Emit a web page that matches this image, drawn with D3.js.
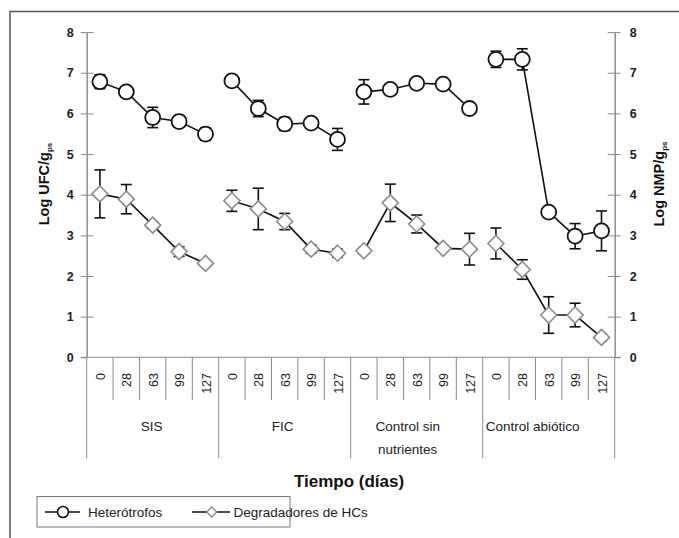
<!DOCTYPE html>
<html><head><meta charset="utf-8">
<script src="https://cdn.jsdelivr.net/npm/d3@7"></script>
<style>body{margin:0;background:#fff}svg{display:block;font-family:"Liberation Sans",Arial,sans-serif}</style>
</head><body>
<svg id="c" width="679" height="538"></svg>
<script>
const groups = ["SIS", "FIC", "Control sin\nnutrientes", "Control abiótico"];
const days = ["0", "28", "63", "99", "127"];
const hetero = [6.78, 6.53, 5.9, 5.8, 5.49,  6.8, 6.12, 5.74, 5.76, 5.36,  6.53, 6.59, 6.74, 6.72, 6.12,  7.33, 7.33, 3.57, 2.98, 3.11];
const heteroErr = [0.17, 0.05, 0.25, 0.05, 0.15,  0.12, 0.2, 0.16, 0.05, 0.27,  0.3, 0.06, 0.06, 0.06, 0.08,  0.2, 0.26, 0.1, 0.31, 0.49];
const degr = [4.02, 3.89, 3.25, 2.6, 2.31,  3.85, 3.65, 3.34, 2.66, 2.56,  2.62, 3.8, 3.28, 2.68, 2.66,  2.8, 2.16, 1.04, 1.04, 0.49];
const degrErr = [0.59, 0.36, 0.08, 0.12, 0.05,  0.26, 0.51, 0.2, 0.1, 0.1,  0.08, 0.46, 0.22, 0.06, 0.39,  0.38, 0.24, 0.45, 0.29, 0.08];
const yTicks = [0, 1, 2, 3, 4, 5, 6, 7, 8];
const seriesNames = ["Heterótrofos", "Degradadores de HCs"];

const svg = d3.select("#c");
const L = 86.7, R = 614.7, T = 32.1, B = 357.3;
const keys = [];
groups.forEach((g, gi) => days.forEach(d => keys.push(gi + "-" + d)));
const x = d3.scaleBand().domain(keys).range([L, R]).padding(0);
const y = d3.scaleLinear().domain([0, 8]).range([B, T]);
const axisCol = "#8a8a8a";

// frame
svg.append("path").attr("d", `M10,538 V11.5 H679`).attr("fill", "none").attr("stroke", "#555").attr("stroke-width", 1.5);

// left axis
const gl = svg.append("g").attr("transform", `translate(${L},0)`);
gl.call(d3.axisLeft(y).tickValues(yTicks).tickSize(6).tickSizeOuter(0).tickPadding(7).tickFormat(d3.format("d")));
gl.append("g").call(d3.axisRight(y).tickValues(yTicks.slice(1)).tickSize(7).tickSizeOuter(0).tickFormat(""));
const gr = svg.append("g").attr("transform", `translate(${R},0)`);
gr.call(d3.axisRight(y).tickValues(yTicks).tickSize(6).tickSizeOuter(0).tickPadding(9).tickFormat(d3.format("d")));
gr.append("g").call(d3.axisLeft(y).tickValues(yTicks.slice(1)).tickSize(7).tickSizeOuter(0).tickFormat(""));
[gl, gr].forEach(g => {
  g.selectAll("path,line").attr("stroke", axisCol);
  g.selectAll("text").attr("font-size", 12.5).attr("font-weight", "bold").attr("fill", "#222").attr("font-family", "Liberation Sans, Arial, sans-serif");
});

// bottom axis line
svg.append("line").attr("x1", L - 6).attr("x2", R + 6).attr("y1", B).attr("y2", B).attr("stroke", axisCol);

// separators
keys.forEach((k, i) => {
  const xs = x(k);
  const isGroup = i % 5 === 0;
  svg.append("line").attr("x1", xs).attr("x2", xs).attr("y1", B).attr("y2", isGroup ? 458 : 400).attr("stroke", axisCol);
});
svg.append("line").attr("x1", R).attr("x2", R).attr("y1", B).attr("y2", 458).attr("stroke", axisCol);

// day labels
keys.forEach((k, i) => {
  const cx = x(k) + x.bandwidth() / 2;
  svg.append("text").attr("transform", `translate(${cx + 5},373) rotate(-90)`)
    .attr("text-anchor", "end").attr("font-size", 12.5).attr("fill", "#222").text(days[i % 5]);
});
// group labels (positions follow the reference layout)
const groupAlign = ["middle", "middle", "middle", "start"];
const groupShift = [-1, -2, -9, 0];
groups.forEach((g, gi) => {
  const x0 = x(keys[gi * 5]), x1 = x(keys[gi * 5 + 4]) + x.bandwidth();
  const px = groupAlign[gi] === "start" ? x0 + 3 : (x0 + x1) / 2 + groupShift[gi];
  const lines = g.split("\n");
  const t = svg.append("text").attr("text-anchor", groupAlign[gi]).attr("font-size", 13.5).attr("fill", "#222");
  lines.forEach((ln, li) => t.append("tspan").attr("x", px).attr("y", 431 + li * 23).text(ln));
});

// axis titles
svg.append("text").attr("x", 349).attr("y", 487).attr("text-anchor", "middle")
  .attr("font-size", 17).attr("font-weight", "bold").attr("fill", "#111").text("Tiempo (días)");
function yTitle(xp, main) {
  const t = svg.append("text").attr("transform", `translate(${xp},184) rotate(-90)`).attr("text-anchor", "middle")
    .attr("font-size", 14.5).attr("font-weight", "bold").attr("fill", "#111");
  t.append("tspan").text(main);
  t.append("tspan").attr("font-size", 8).attr("dy", 3).text("ps");
}
yTitle(49, "Log UFC/g");
yTitle(664, "Log NMP/g");

// series
const cxOf = i => x(keys[i]) + x.bandwidth() / 2;
function drawSeries(vals, errs, kind) {
  const g = svg.append("g");
  vals.forEach((v, i) => {
    const cx = cxOf(i), e = errs[i];
    g.append("line").attr("x1", cx).attr("x2", cx).attr("y1", y(v - e)).attr("y2", y(v + e)).attr("stroke", "#111").attr("stroke-width", 1.6);
    [v - e, v + e].forEach(w => g.append("line").attr("x1", cx - 5.5).attr("x2", cx + 5.5).attr("y1", y(w)).attr("y2", y(w)).attr("stroke", "#111").attr("stroke-width", 1.6));
  });
  const line = d3.line().x(d => cxOf(d)).y(d => y(vals[d]));
  groups.forEach((gname, gi) => {
    const idx = d3.range(gi * 5, gi * 5 + 5);
    g.append("path").attr("d", line(idx)).attr("fill", "none").attr("stroke", "#111").attr("stroke-width", 1.6);
  });
  vals.forEach((v, i) => {
    const cx = cxOf(i), cy = y(v);
    if (kind === "circle") {
      g.append("circle").attr("cx", cx).attr("cy", cy).attr("r", 7.5).attr("fill", "#fff").attr("stroke", "#111").attr("stroke-width", 1.8);
    } else {
      g.append("path").attr("d", `M${cx},${cy - 8}L${cx + 8},${cy}L${cx},${cy + 8}L${cx - 8},${cy}Z`).attr("fill", "#fff").attr("stroke", "#8c8c8c").attr("stroke-width", 1.6);
    }
  });
}
drawSeries(degr, degrErr, "diamond");
drawSeries(hetero, heteroErr, "circle");

// legend
const lg = svg.append("g");
lg.append("rect").attr("x", 37).attr("y", 496.5).attr("width", 253).attr("height", 30.5).attr("fill", "#fff").attr("stroke", "#777").attr("stroke-width", 1);
lg.append("line").attr("x1", 45).attr("x2", 80).attr("y1", 512).attr("y2", 512).attr("stroke", "#111").attr("stroke-width", 1.6);
lg.append("circle").attr("cx", 63).attr("cy", 512).attr("r", 5.5).attr("fill", "#fff").attr("stroke", "#111").attr("stroke-width", 1.6);
lg.append("text").attr("x", 88).attr("y", 516.5).attr("font-size", 13.5).attr("fill", "#222").text(seriesNames[0]);
lg.append("line").attr("x1", 192).attr("x2", 230).attr("y1", 512).attr("y2", 512).attr("stroke", "#111").attr("stroke-width", 1.6);
lg.append("path").attr("d", "M211.7,507L216.7,512L211.7,517L206.7,512Z").attr("fill", "#fff").attr("stroke", "#8c8c8c").attr("stroke-width", 1.4);
lg.append("text").attr("x", 233.5).attr("y", 516.5).attr("font-size", 13.5).attr("fill", "#222").text(seriesNames[1]);
</script>
</body></html>
